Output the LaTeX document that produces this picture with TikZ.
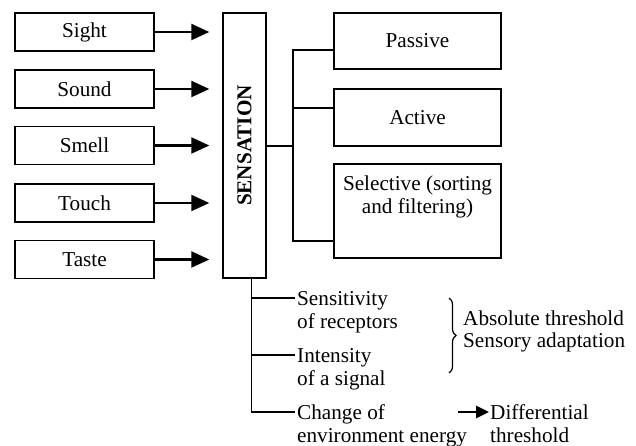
\documentclass[tikz,border=0pt]{standalone}
\usepackage{fontspec}
\usepackage{graphicx}
\setmainfont{Liberation Serif}
\usetikzlibrary{arrows.meta,decorations.pathreplacing,calc}

\begin{document}
\begin{tikzpicture}[x=1pt,y=-1pt,
  every node/.style={font=\fontsize{21.2}{23}\selectfont},
  sensebox/.style={draw, line width=1.4pt, minimum width=139pt, minimum height=38pt, inner sep=0pt},
  kindbox/.style={draw, line width=1.4pt, minimum width=167pt, inner sep=0pt},
  lbl/.style={inner sep=0pt, anchor=base west},
  wire/.style={line width=1.3pt},
  bigarrow/.style={line width=2.2pt, -{Triangle[length=18pt,width=16pt]}, shorten >=13pt},
  smallarrow/.style={line width=2.6pt, -{Triangle[length=13pt,width=12pt]}}
]
\useasboundingbox (0,0) rectangle (636,446);

% the five senses
\node[sensebox] (sight) at (84.5,32)  {Sight};
\node[sensebox] (sound) at (84.5,89)  {Sound};
\node[sensebox] (smell) at (84.5,145.5) {Smell};
\node[sensebox] (touch) at (84.5,203) {Touch};
\node[sensebox] (taste) at (84.5,259.5) {Taste};

% central column
\node[draw, line width=1.4pt, minimum width=43pt, minimum height=265pt, inner sep=0pt]
  (sensation) at (244.5,145.5) {\rotatebox{90}{\bfseries SENSATION}};

\foreach \s in {sight,sound,smell,touch,taste}
  \draw[bigarrow] (\s.east) -- (\s -| sensation.west);

% kinds of sensation
\node[kindbox, minimum height=56pt] (passive) at (417.5,41) {Passive};
\node[kindbox, minimum height=57pt] (active) at (417.5,117.5) {Active};
\node[kindbox, minimum height=94pt] (selective) at (417.5,211) {};
\node[align=center, inner sep=0pt, anchor=north] (seltext) at ([yshift=-12pt]selective.north)
  {Selective (sorting\\and filtering)};

\coordinate (hub) at (293,146);
\draw[wire] (sensation.east |- hub) -- (hub);
\draw[wire] (passive.west |- 0,50) -| (hub) |- (selective.west |- 0,241);
\draw[wire] (hub |- 0,108) -- (active.west |- 0,108);

% factors below the column
\node[lbl] (sens)  at (297,305) {Sensitivity};
\node[lbl] (sensb) at (297,328) {of receptors};
\node[lbl] (inten) at (297,362) {Intensity};
\node[lbl] (intenb) at (297,385) {of a signal};
\node[lbl] (change) at (297,419) {Change of};
\node[lbl] (changeb) at (297,442) {environment energy};

\coordinate (trunk) at ([xshift=7pt]sensation.south);
\coordinate (j1) at ([shift={(-2pt,7pt)}]sens.base west);
\coordinate (j2) at ([shift={(-2pt,7pt)}]inten.base west);
\coordinate (j3) at ([shift={(-2pt,7pt)}]change.base west);
\draw[wire] (trunk) |- (j3);
\draw[wire] (trunk |- j1) -- (j1);
\draw[wire] (trunk |- j2) -- (j2);

% thresholds
\draw[line width=1.2pt, decorate, decoration={brace, amplitude=7pt}] (449,298) -- (449,373);
\node[lbl] (abs) at (463,325) {Absolute threshold};
\node[lbl] (adapt) at (463,347) {Sensory adaptation};

\node[lbl] (diff)  at (490,419) {Differential};
\node[lbl] (diffb) at (490,442) {threshold};
\coordinate (darr) at (458,412);
\draw[smallarrow] (darr) -- ([shift={(-1pt,7pt)}]diff.base west);
\end{tikzpicture}
\end{document}
